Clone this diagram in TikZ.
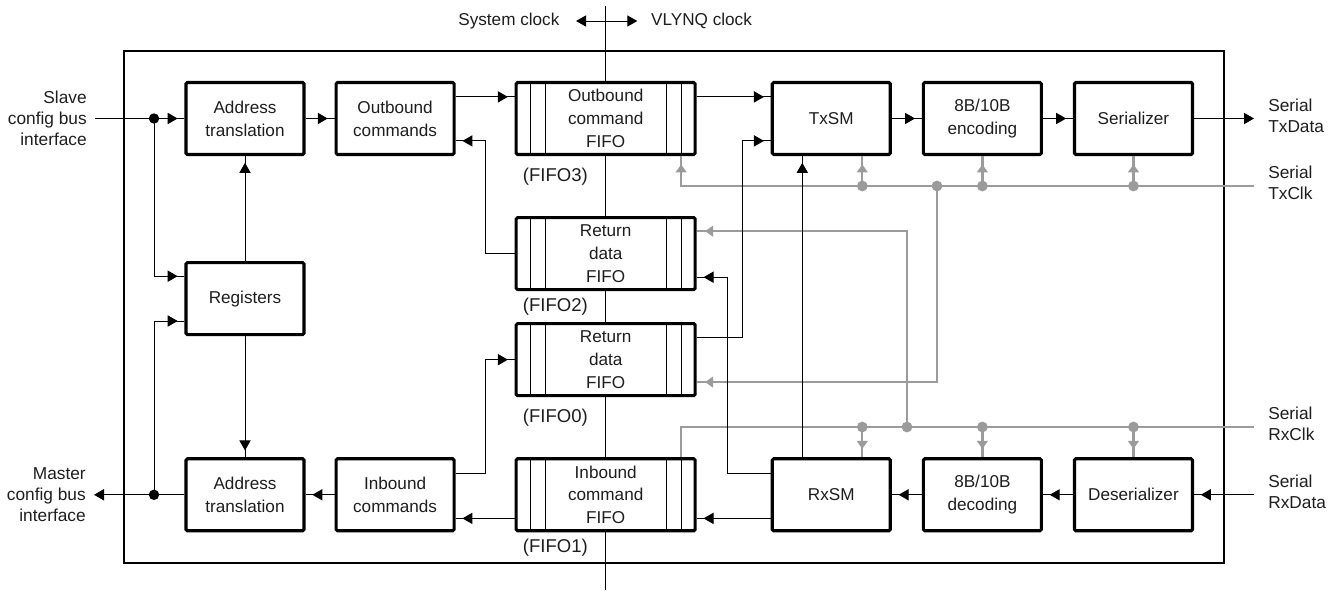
\documentclass[tikz,border=0pt]{standalone}
\usepackage{fontspec}
\setmainfont{Liberation Sans}
\usetikzlibrary{positioning,calc,arrows.meta,backgrounds}
\definecolor{clkGray}{RGB}{155,155,155}
\definecolor{txtDark}{RGB}{30,30,30}
\newcommand{\vlfont}{\fontsize{12.2pt}{16.3pt}\selectfont}
\newcommand{\sidefont}{\fontsize{12.3pt}{15pt}\selectfont}
\newcommand{\fifofont}{\fontsize{13.2pt}{15pt}\selectfont}

\begin{document}
\begin{tikzpicture}[
    blk/.style={draw, line width=2.2pt, fill=white, rounded corners=1pt, inner sep=2pt, minimum width=2.95cm, minimum height=1.8cm, align=center, font=\vlfont, text=txtDark},
    fifo/.style={blk, minimum width=4.475cm},
    lbl/.style={inner sep=0pt, font=\vlfont, text=txtDark},
    side/.style={lbl, font=\sidefont},
    rside/.style={side, align=left, yshift=0.075cm},
    ln/.style={line width=0.7pt},
    arr/.style={ln, postaction={draw, -{Triangle[length=0.25cm, width=0.28cm]}, shorten >=0.17cm}},
    tip/.style={ln, -{Triangle[length=0.25cm, width=0.28cm]}},
    clk/.style={line width=1.7pt, clkGray},
    clkarr/.style={clk, postaction={draw, -{Triangle[length=0.2cm, width=0.27cm]}, shorten >=0.21cm}},
    jdot/.style={circle, fill, inner sep=0pt, minimum size=0.26cm},
    gdot/.style={jdot, fill=clkGray, minimum size=0.27cm},
]
\useasboundingbox (0,0) rectangle (33.375,-14.75);

% Outbound row
\node[blk] (atout) at (6.125,-2.9625) {Address\\translation};
\node[blk, right=0.725cm of atout] (outcmd) {Outbound\\commands};
\node[fifo, right=1.475cm of outcmd] (ofifo) {Outbound\\command\\FIFO};
\node[blk, right=1.85cm of ofifo] (txsm) {TxSM};
\node[blk, right=0.75cm of txsm] (enc) {8B/10B\\encoding};
\node[blk, right=0.75cm of enc] (ser) {Serializer};

% FIFO column
\node[fifo, below=1.5cm of ofifo] (retdtwo) {Return\\data\\FIFO};
\node[fifo, below=0.775cm of retdtwo] (retdzero) {Return\\data\\FIFO};
\node[fifo, below=1.5cm of retdzero] (ififo) {Inbound\\command\\FIFO};

% Inbound row
\node[blk, left=1.475cm of ififo] (incmd) {Inbound\\commands};
\node[blk, left=0.725cm of incmd] (atin) {Address\\translation};
\node[blk, right=1.85cm of ififo] (rxsm) {RxSM};
\node[blk, right=0.75cm of rxsm] (dec) {8B/10B\\decoding};
\node[blk, right=0.75cm of dec] (deser) {Deserializer};
\node[blk, below=2.625cm of atout] (regs) {Registers};

% FIFO slots and names
\foreach \fname in {ofifo,retdtwo,retdzero,ififo} {
  \foreach \dx in {0.39,0.765} {
    \draw[ln] ([xshift=\dx cm]\fname.north west) -- ([xshift=\dx cm]\fname.south west);
    \draw[ln] ([xshift=-\dx cm]\fname.north east) -- ([xshift=-\dx cm]\fname.south east);
  }
}
\node[lbl, font=\fifofont, anchor=west] (fthree) at ([xshift=0.2cm, yshift=-0.525cm]ofifo.south west) {(FIFO3)};
\node[lbl, font=\fifofont, anchor=west] (ftwo) at ([xshift=0.2cm, yshift=-0.4cm]retdtwo.south west) {(FIFO2)};
\node[lbl, font=\fifofont, anchor=west] (fzero) at ([xshift=0.2cm, yshift=-0.5cm]retdzero.south west) {(FIFO0)};
\node[lbl, font=\fifofont, anchor=west] (fone) at ([xshift=0.2cm, yshift=-0.375cm]ififo.south west) {(FIFO1)};

% Clock domains
\coordinate (clksplit) at (ofifo.center |- 0,-0.525);
\node[lbl, left=1.15cm of clksplit] (sysclk) {System clock};
\node[lbl, right=1.13cm of clksplit] (vlclk) {VLYNQ clock};
\draw[ln, {Triangle[length=0.25cm, width=0.28cm]}-{Triangle[length=0.25cm, width=0.28cm]}, shorten <=0.41cm, shorten >=0.34cm] (sysclk.east) -- (sysclk.east -| vlclk.west);

\begin{scope}[on background layer]
\draw[line width=1.4pt] (3.1,-1.275) rectangle (30.6,-14.075);
\draw[ln] (clksplit |- 0,-0.15) -- (clksplit |- 0,-14.75);
\end{scope}

% Pins
\coordinate (slavein) at (2.375,0 |- atout.west);
\coordinate (masterout) at (2.35,0 |- atin.west);
\coordinate (txdata) at (31.35,0 |- ser.east);
\coordinate (rxdata) at (31.35,0 |- deser.east);
\coordinate (txclk) at (31.35,-4.65);
\coordinate (rxclk) at (31.35,-10.675);
\node[side, align=right, left=0.2cm of slavein] (slave) {Slave\\config bus\\interface};
\node[side, align=right, left=0.2cm of masterout] (master) {Master\\config bus\\interface};
\node[rside, right=0.35cm of txdata] (txdlbl) {Serial\\TxData};
\node[rside, right=0.35cm of txclk] (txclbl) {Serial\\TxClk};
\node[rside, right=0.35cm of rxclk] (rxclbl) {Serial\\RxClk};
\node[rside, right=0.35cm of rxdata] (rxdlbl) {Serial\\RxData};

% Clock lines
\node[gdot] (ttx) at ([xshift=0.775cm]txsm.south |- txclk) {};
\node[gdot] (tbr) at (23.425,0 |- txclk) {};
\node[gdot] (tenc) at (enc.south |- txclk) {};
\node[gdot] (tser) at (ser.south |- txclk) {};
\node[gdot] (rrx) at ([xshift=0.775cm]rxsm.north |- rxclk) {};
\node[gdot] (rbr) at (22.675,0 |- rxclk) {};
\node[gdot] (rdec) at (dec.north |- rxclk) {};
\node[gdot] (rdes) at (deser.north |- rxclk) {};
\draw[clkarr] (txclk) -| ([xshift=-0.39cm]ofifo.south east);
\draw[clkarr] (ttx.center) -- (ttx.center |- txsm.south);
\draw[clkarr] (tenc.center) -- (enc);
\draw[clkarr] (tser.center) -- (ser);
\draw[clkarr] (tbr.center) |- ([yshift=-0.56cm]retdzero.east);
\draw[clk] (rxclk) -| ([xshift=-0.39cm]ififo.north east);
\draw[clkarr] (rrx.center) -- (rrx.center |- rxsm.north);
\draw[clkarr] (rdec.center) -- (dec);
\draw[clkarr] (rdes.center) -- (deser);
\draw[clkarr] (rbr.center) |- ([yshift=0.56cm]retdtwo.east);

% Config bus
\node[jdot] (slavedot) at (3.85,0 |- atout.west) {};
\node[jdot] (masterdot) at (3.85,0 |- atin.west) {};
\draw[arr] (slavein) -- (atout.west);
\draw[arr] (slavedot.center) |- ([yshift=0.56cm]regs.west);
\draw[arr] (masterdot.center) |- ([yshift=-0.56cm]regs.west);
\draw[arr] (regs) -- (atout);
\draw[arr] (regs) -- (atin);
\draw[tip] (atin.west) -- (masterout);

% Data paths
\draw[arr] (atout) -- (outcmd);
\draw[arr] ([yshift=0.54cm]outcmd.east) -- ([yshift=0.54cm]ofifo.west);
\draw[arr] (retdtwo.west) -- ++(-0.725cm,0) |- ([yshift=-0.56cm]outcmd.east);
\draw[arr] ([yshift=0.54cm]ofifo.east) -- ([yshift=0.54cm]txsm.west);
\draw[arr] ([yshift=0.56cm]retdzero.east) -- ++(1.14cm,0) |- ([yshift=-0.56cm]txsm.west);
\draw[arr] ([yshift=0.54cm]rxsm.west) -- ++(-1.09cm,0) |- ([yshift=-0.59cm]retdtwo.east);
\draw[arr] ([xshift=-0.725cm]rxsm.north) -- ([xshift=-0.725cm]txsm.south);
\draw[arr] ([yshift=0.54cm]incmd.east) -- ++(0.75cm,0) |- (retdzero.west);
\draw[arr] ([yshift=-0.59cm]ififo.west) -- ([yshift=-0.59cm]incmd.east);
\draw[arr] ([yshift=-0.59cm]rxsm.west) -- ([yshift=-0.59cm]ififo.east);
\draw[arr] (incmd) -- (atin);
\draw[arr] (txsm) -- (enc);
\draw[arr] (enc) -- (ser);
\draw[tip] (ser) -- (txdata);
\draw[arr] (rxdata) -- (deser);
\draw[arr] (deser) -- (dec);
\draw[arr] (dec) -- (rxsm);
\end{tikzpicture}
\end{document}
